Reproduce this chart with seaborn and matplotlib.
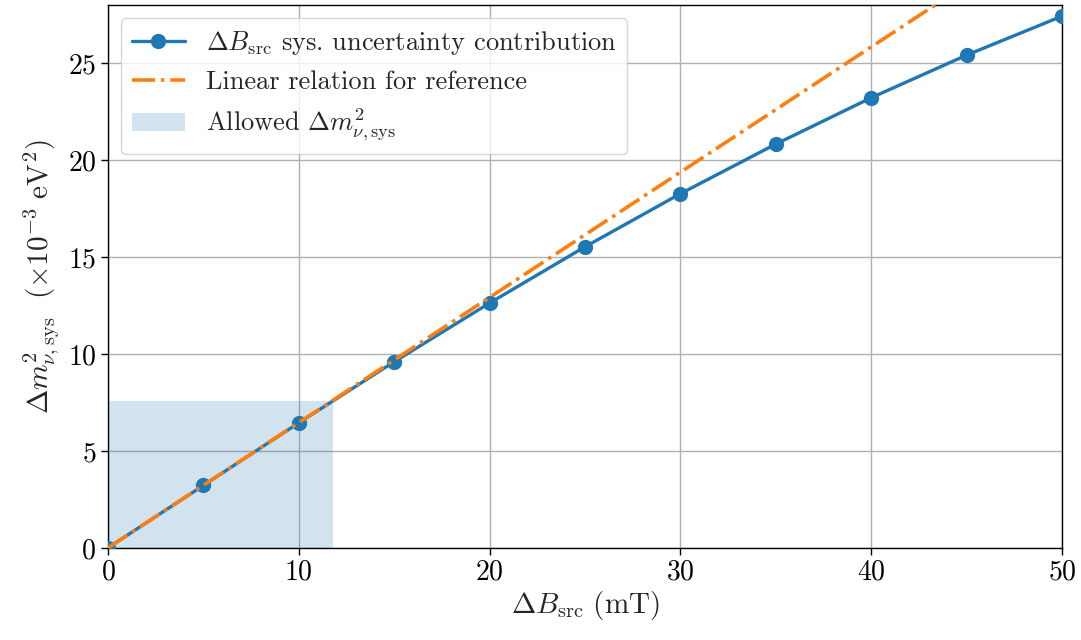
import matplotlib
matplotlib.use("Agg")
import matplotlib.pyplot as plt
import seaborn as sns
import pandas as pd
from matplotlib.patches import Patch
from matplotlib.lines import Line2D

# Data
b_src = [0, 5, 10, 15, 20, 25, 30, 35, 40, 45, 50]
dm2_sys = [0.0, 3.22, 6.45, 9.6, 12.63, 15.53, 18.27, 20.83, 23.22, 25.42, 27.43]
lin_x = [0, 50]
lin_y = [0, 32.3]
allowed_b = 11.8
allowed_dm2 = 7.6

BLUE = "#1f77b4"
ORANGE = "#ff7f0e"

sns.set_theme(style="ticks")
plt.rcParams["font.family"] = ["cmr10", "DejaVu Serif"]
plt.rcParams["mathtext.fontset"] = "cm"
plt.rcParams["axes.formatter.use_mathtext"] = True
plt.rcParams["axes.unicode_minus"] = False

fig = plt.figure(figsize=(10.81, 6.4), dpi=100)
ax = fig.add_axes([0.0999, 0.144, 0.8825, 0.848])

df = pd.DataFrame({"x": b_src, "y": dm2_sys})
dl = pd.DataFrame({"x": lin_x, "y": lin_y})

ax.fill_between([0, allowed_b], 0, allowed_dm2, color=BLUE, alpha=0.2, linewidth=0, zorder=1)
sns.lineplot(data=df, x="x", y="y", ax=ax, color=BLUE, marker="o", markersize=11,
             markeredgewidth=0, linewidth=2.4, zorder=3)
sns.lineplot(data=dl, x="x", y="y", ax=ax, color=ORANGE, linestyle="-.", linewidth=2.6, zorder=4)

ax.set_xlim(0, 50)
ax.set_ylim(0, 28)
ax.set_xticks([0, 10, 20, 30, 40, 50])
ax.set_yticks([0, 5, 10, 15, 20, 25])
ax.grid(True, color="#b0b0b0", linewidth=1.0)
ax.set_axisbelow(True)
for s in ax.spines.values():
    s.set_linewidth(1.0)
    s.set_color("black")
ax.tick_params(labelsize=20, direction="out", length=5, width=1, colors="black")

ax.set_xlabel(r"$\Delta B_{\mathrm{src}}\ (\mathrm{mT})$", fontsize=21, labelpad=2)
ax.set_ylabel(r"$\Delta m^2_{\nu,\mathrm{sys}}\ \ (\times 10^{-3}\ \mathrm{eV}^2)$", fontsize=21, labelpad=4)

handles = [
    Line2D([], [], color=BLUE, marker="o", markersize=11, markeredgewidth=0, linewidth=2.4),
    Line2D([], [], color=ORANGE, linestyle="-.", linewidth=2.6),
    Patch(facecolor=BLUE, alpha=0.2, edgecolor="none"),
]
labels = [
    r"$\Delta B_{\mathrm{src}}$ sys. uncertainty contribution",
    "Linear relation for reference",
    r"Allowed $\Delta m^2_{\nu,\mathrm{sys}}$",
]
ax.legend(handles, labels, loc="upper left", fontsize=19, framealpha=0.8, fancybox=True,
          borderpad=0.4, handlelength=2.0, labelspacing=0.5)

fig.savefig("out.png", dpi=100)
